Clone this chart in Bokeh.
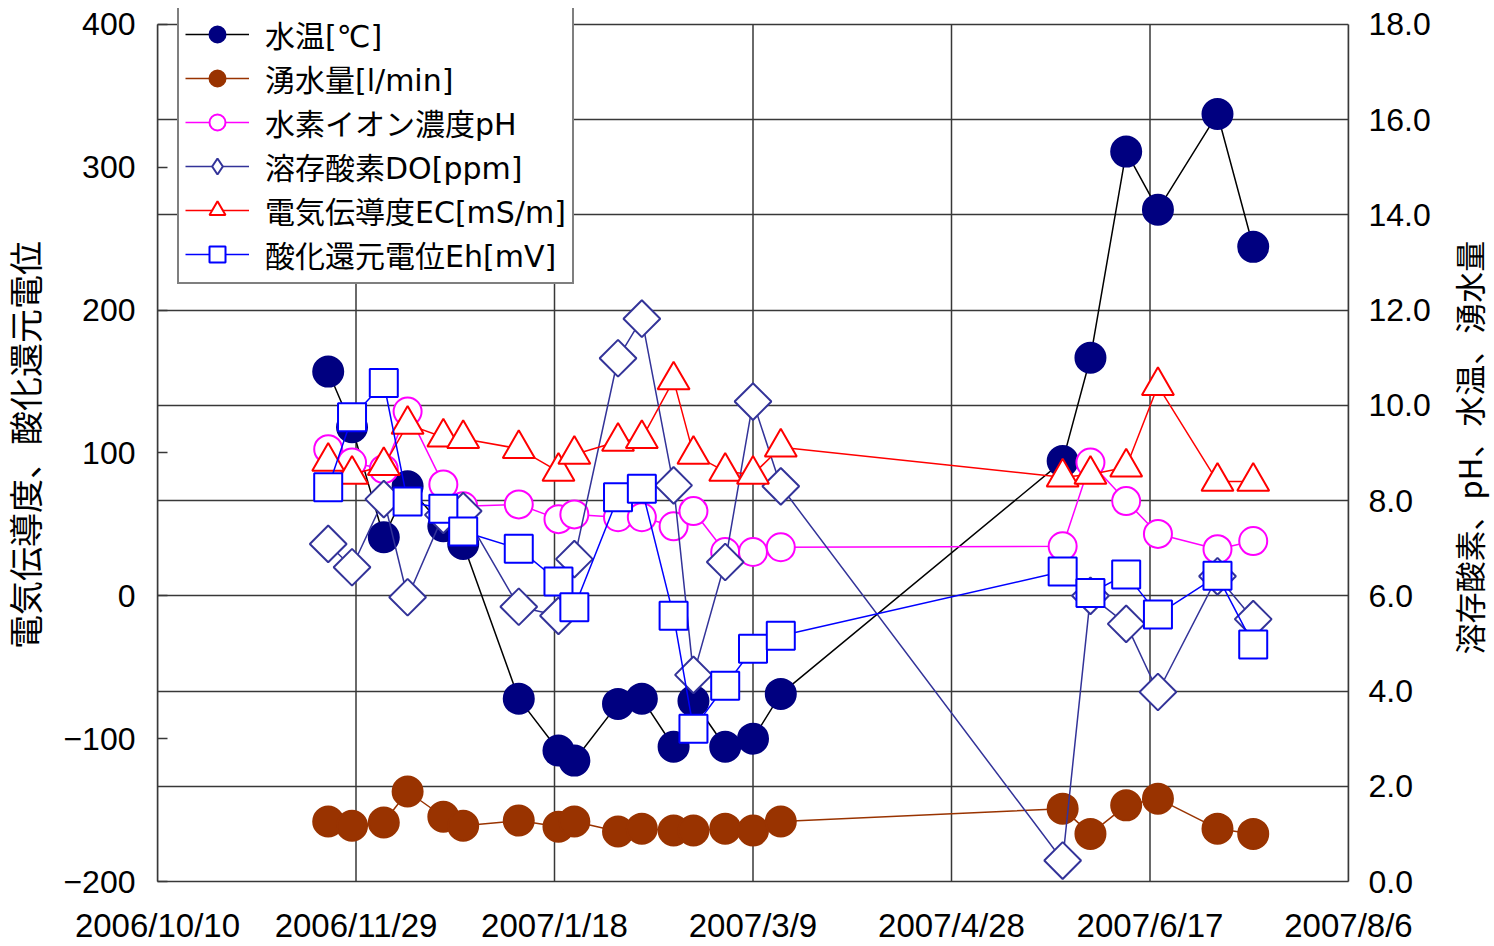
import math
import pandas as pd
from bokeh.plotting import figure
from bokeh.layouts import row
from bokeh.models import (Range1d, LinearAxis, FixedTicker, Grid, Legend, LegendItem,
                          NumeralTickFormatter)
from bokeh.core.properties import value
from bokeh.embed import file_html
from bokeh.resources import INLINE

# ---- data ----
dates = ["2006/11/22", "2006/11/28", "2006/12/6", "2006/12/12", "2006/12/21", "2006/12/26",
         "2007/1/9", "2007/1/19", "2007/1/23", "2007/2/3", "2007/2/9", "2007/2/17",
         "2007/2/22", "2007/3/2", "2007/3/9", "2007/3/16", "2007/5/26", "2007/6/2",
         "2007/6/11", "2007/6/19", "2007/7/4", "2007/7/13"]
water_temp = [10.71, 9.54, 7.23, 8.3, 7.46, 7.09, 3.84, 2.75, 2.54, 3.73, 3.84, 2.83,
              3.79, 2.83, 3.0, 3.94, 8.83, 11.0, 15.33, 14.11, 16.12, 13.33]
flow = [1.26, 1.17, 1.24, 1.89, 1.36, 1.17, 1.28, 1.15, 1.26, 1.05, 1.11, 1.07,
        1.07, 1.11, 1.07, 1.26, 1.53, 1.0, 1.6, 1.74, 1.11, 1.0]
ph = [9.08, 8.8, 8.66, 9.87, 8.34, 7.88, 7.92, 7.61, 7.71, 7.65, 7.65, 7.46,
      7.78, 6.92, 6.92, 7.02, 7.04, 8.8, 7.99, 7.3, 6.98, 7.15]
do = [7.09, 6.6, 8.03, 5.97, 7.7, 7.78, 5.77, 5.58, 6.77, 10.99, 11.82, 8.32,
      4.34, 6.71, 10.08, 8.3, 0.44, 6.0, 5.41, 3.98, 6.41, 5.51]
ec = [94, 85, 91, 120, 111, 110, 103, 87, 99, 108, 110, 151,
      99, 87, 85, 104, 83, 85, 90, 147, 80, 80]
eh = [76, 125, 149, 66, 61, 45, 33, 10, -8, 69, 75, -14,
      -93, -63, -37, -28, 17, 2, 15, -13, 14, -34]

x_tick_labels = ["2006/10/10", "2006/11/29", "2007/1/18", "2007/3/9",
                 "2007/4/28", "2007/6/17", "2007/8/6"]
left_ticks = [-200, -100, 0, 100, 200, 300, 400]
right_ticks = [0, 2, 4, 6, 8, 10, 12, 14, 16, 18]

labels = ["水温[℃]", "湧水量[l/min]", "水素イオン濃度pH", "溶存酸素DO[ppm]",
          "電気伝導度EC[mS/m]", "酸化還元電位Eh[mV]"]
left_title = "電気伝導度、酸化還元電位"
right_title = "溶存酸素、pH、水温、湧水量"

# ---- conversions ----
origin = pd.Timestamp("2006/10/10")
xs = [(pd.Timestamp(d) - origin).days for d in dates]
x_ticks = [(pd.Timestamp(d) - origin).days for d in x_tick_labels]

FONT = "Liberation Sans, Noto Sans CJK JP"
LEG_FONT = "DejaVu Sans, Noto Sans CJK JP"
TICK_FONT = "Liberation Sans"
GRID = "#383838"

# layout: plotting area 859px tall for the axes, plus 16px headroom for the legend
AX_H = 859
HEAD = 16
l0, l1 = left_ticks[0], left_ticks[-1]
r0, r1 = right_ticks[0], right_ticks[-1]
left_top = l1 + (l1 - l0) / AX_H * HEAD
right_top = r1 + (r1 - r0) / AX_H * HEAD

MAIN_W = 1441
p = figure(width=MAIN_W, height=946, output_backend="svg", toolbar_location=None,
           x_range=Range1d(x_ticks[0], x_ticks[-1]), y_range=Range1d(l0, left_top),
           min_border_left=157, min_border_right=MAIN_W - 1348, min_border_top=8,
           min_border_bottom=63)
p.extra_y_ranges = {"r": Range1d(r0, right_top)}
p.outline_line_color = None
p.background_fill_color = "white"

# x axis
xa = p.xaxis[0]
xa.ticker = FixedTicker(ticks=x_ticks)
xa.major_label_overrides = {t: l for t, l in zip(x_ticks, x_tick_labels)}
xa.major_tick_in = 0
xa.major_tick_out = 0
xa.minor_tick_line_color = None
xa.axis_line_color = GRID
xa.axis_line_width = 1.5
xa.major_label_standoff = 25
xa.major_label_text_font = TICK_FONT
xa.major_label_text_font_size = "33px"
xa.major_label_text_color = "black"

# left axis
ya = p.yaxis[0]
ya.ticker = FixedTicker(ticks=left_ticks)
ya.bounds = (l0, l1)
ya.major_tick_in = 10
ya.major_tick_out = 0
ya.major_tick_line_color = GRID
ya.major_tick_line_width = 1.5
ya.minor_tick_line_color = None
ya.axis_line_color = GRID
ya.axis_line_width = 1.5
ya.major_label_standoff = 22
ya.major_label_text_font = TICK_FONT
ya.major_label_text_font_size = "32px"
ya.major_label_text_color = "black"
ya.axis_label = left_title
ya.axis_label_text_font = FONT
ya.axis_label_text_font_size = "34px"
ya.axis_label_text_font_style = "normal"
ya.axis_label_text_color = "black"
ya.axis_label_standoff = 14

# right axis (its title is drawn in a narrow strip beside the plot, reading upward)
ra = LinearAxis(y_range_name="r", ticker=FixedTicker(ticks=right_ticks))
ra.formatter = NumeralTickFormatter(format="0.0")
ra.bounds = (r0, r1)
ra.major_tick_in = 0
ra.major_tick_out = 0
ra.minor_tick_line_color = None
ra.axis_line_color = GRID
ra.axis_line_width = 1.5
ra.major_label_standoff = 20
ra.major_label_text_font = TICK_FONT
ra.major_label_text_font_size = "32px"
ra.major_label_text_color = "black"
p.add_layout(ra, "right")

# grids: horizontal lines follow the right axis ticks, vertical lines the date ticks
p.xgrid[0].visible = False
p.ygrid[0].visible = False
g = Grid(dimension=1, ticker=FixedTicker(ticks=right_ticks), y_range_name="r",
         grid_line_color=GRID, grid_line_width=1.5)
p.add_layout(g)
n = len(x_ticks)
p.segment(x0=x_ticks, y0=[l0] * n, x1=x_ticks, y1=[l1] * n,
          line_color=GRID, line_width=1.5)

# ---- series ----
items = []

def series(y, label, line_color, marker, size, fill, mline, rng=None, angle=0.0,
           legend_marker=None):
    kw = {} if rng is None else {"y_range_name": rng}
    l = p.line(xs, y, line_color=line_color, line_width=1.5, **kw)
    s = p.scatter(xs, y, marker=marker, size=size, fill_color=fill,
                  line_color=mline, line_width=2, angle=angle, **kw)
    rs = [l, s]
    if legend_marker is not None:
        # hidden twin of the series, used only for the legend's marker shape
        d = p.scatter(xs, y, marker=legend_marker, size=size, fill_color=fill,
                      line_color=mline, line_width=2, visible=False, **kw)
        rs = [l, d]
    items.append(LegendItem(label=label, renderers=rs))

series(water_temp, labels[0], "#000000", "circle", 30, "#000080", "#000080", "r")
series(flow, labels[1], "#993300", "circle", 30, "#993300", "#993300", "r")
series(ph, labels[2], "#FF00FF", "circle", 28, "white", "#FF00FF", "r")
series(do, labels[3], "#333399", "square", 26, "white", "#333399", "r", math.pi / 4,
       legend_marker="diamond")
series(ec, labels[4], "#FF0000", "triangle", 32, "white", "#FF0000")
series(eh, labels[5], "#0000FF", "square", 28, "white", "#0000FF")

legend = Legend(items=items, location=(20, 597))
legend.label_text_font = LEG_FONT
legend.label_text_font_size = "30px"
legend.label_text_color = "black"
legend.glyph_width = 64
legend.glyph_height = 40
legend.label_height = 40
legend.spacing = 0
legend.padding = 6
legend.margin = 0
legend.label_standoff = 16
legend.border_line_color = "black"
legend.border_line_width = 2
legend.background_fill_alpha = 1.0
p.add_layout(legend)

# ---- narrow strip carrying the right-hand axis title (reads bottom to top) ----
STRIP_W = 1494 - MAIN_W
t = figure(width=STRIP_W, height=946, output_backend="svg", toolbar_location=None,
           title=None, x_axis_location=None, y_axis_location=None,
           x_range=Range1d(0, 1), y_range=Range1d(0, 1),
           min_border_left=0, min_border_right=0, min_border_top=0, min_border_bottom=0)
t.grid.visible = False
t.outline_line_color = None
t.text(x=[0.5], y=[0.497], text=[right_title], angle=math.pi / 2,
       text_align="center", text_baseline="middle",
       text_font=value("Noto Sans CJK JP"), text_font_size="31px", text_color="black")

layout = row(p, t, spacing=0)
open("out.html", "w").write(file_html(layout, INLINE))
